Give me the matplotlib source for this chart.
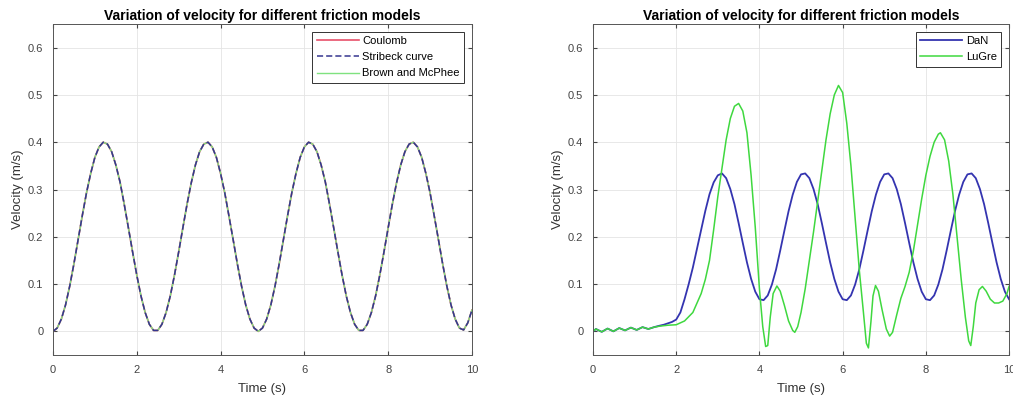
import numpy as np
import matplotlib
matplotlib.use("Agg")
import matplotlib.pyplot as plt

plt.rcParams['font.family'] = ['Liberation Sans', 'DejaVu Sans']

# left panel: the three models give the same response
time_left = np.round(np.arange(0, 10.01, 0.1), 1)
vel_left = [
    0.000, 0.007, 0.026, 0.056, 0.096, 0.143, 0.194, 0.245, 0.293, 0.334,
    0.368, 0.390, 0.400, 0.396, 0.380, 0.352, 0.316, 0.269, 0.219, 0.168,
    0.119, 0.075, 0.040, 0.015, 0.002,
    0.002, 0.015, 0.040, 0.075, 0.119, 0.168, 0.219, 0.269, 0.314, 0.352,
    0.380, 0.396, 0.400, 0.390, 0.368, 0.334, 0.293, 0.244, 0.194, 0.143,
    0.096, 0.056, 0.026, 0.007,
    0.000, 0.007, 0.026, 0.056, 0.096, 0.143, 0.194, 0.245, 0.293, 0.334,
    0.368, 0.390, 0.400, 0.396, 0.380, 0.352, 0.316, 0.269, 0.219, 0.168,
    0.119, 0.075, 0.040, 0.015, 0.002,
    0.002, 0.015, 0.040, 0.075, 0.119, 0.168, 0.219, 0.269, 0.314, 0.352,
    0.380, 0.396, 0.400, 0.390, 0.368, 0.334, 0.293, 0.244, 0.194, 0.143,
    0.096, 0.056, 0.026, 0.007,
    0.003, 0.018, 0.045,
]
coulomb = vel_left
stribeck = vel_left
brown = vel_left

# right panel
dan_t = [0, .07, .21, .35, .49, .63, .77, .91, 1.05, 1.19, 1.33, 1.47,
         1.6, 1.7, 1.8, 1.9, 2.0, 2.1, 2.2, 2.3, 2.4, 2.5, 2.6, 2.7, 2.8, 2.9, 3.0,
         3.1, 3.2, 3.3, 3.4, 3.5, 3.6, 3.7, 3.8, 3.9, 4.0,
         4.1, 4.2, 4.3, 4.4, 4.5, 4.6, 4.7, 4.8, 4.9, 5.0,
         5.1, 5.2, 5.3, 5.4, 5.5, 5.6, 5.7, 5.8, 5.9, 6.0,
         6.1, 6.2, 6.3, 6.4, 6.5, 6.6, 6.7, 6.8, 6.9, 7.0,
         7.1, 7.2, 7.3, 7.4, 7.5, 7.6, 7.7, 7.8, 7.9, 8.0,
         8.1, 8.2, 8.3, 8.4, 8.5, 8.6, 8.7, 8.8, 8.9, 9.0,
         9.1, 9.2, 9.3, 9.4, 9.5, 9.6, 9.7, 9.8, 9.9, 10.0]
dan_v = [0.000, 0.005, -0.001, 0.006, 0.000, 0.007, 0.002, 0.008, 0.003, 0.009, 0.005, 0.009,
         0.012, 0.014, 0.017, 0.020, 0.025, 0.040, 0.068, 0.100, 0.135, 0.175, 0.215, 0.255, 0.290, 0.315, 0.330,
         0.334, 0.324, 0.301, 0.269, 0.229, 0.187, 0.146, 0.111, 0.084, 0.068,
         0.066, 0.076, 0.099, 0.131, 0.171, 0.213, 0.254, 0.289, 0.316, 0.332,
         0.334, 0.324, 0.301, 0.269, 0.229, 0.187, 0.146, 0.111, 0.084, 0.068,
         0.066, 0.076, 0.099, 0.131, 0.171, 0.213, 0.254, 0.289, 0.316, 0.332,
         0.334, 0.324, 0.301, 0.269, 0.229, 0.187, 0.146, 0.111, 0.084, 0.068,
         0.066, 0.076, 0.099, 0.131, 0.171, 0.213, 0.254, 0.289, 0.316, 0.332,
         0.334, 0.324, 0.301, 0.269, 0.229, 0.187, 0.146, 0.111, 0.084, 0.068]

lugre_t = [0, .07, .21, .35, .49, .63, .77, .91, 1.05, 1.19, 1.33, 1.47,
           1.6, 1.8, 2.0, 2.2, 2.4, 2.6, 2.7, 2.8, 2.9, 3.0, 3.1, 3.2, 3.3, 3.4,
           3.5, 3.6, 3.7, 3.8, 3.9, 4.0, 4.08, 4.15, 4.2, 4.26, 4.33, 4.42, 4.5,
           4.6, 4.7, 4.8, 4.85, 4.92, 5.0, 5.1, 5.2, 5.3, 5.4, 5.5, 5.6, 5.7,
           5.8, 5.9, 6.0, 6.1, 6.2, 6.3, 6.4, 6.5, 6.57, 6.62, 6.68, 6.73, 6.79,
           6.86, 6.95, 7.05, 7.13, 7.2, 7.3, 7.4, 7.5, 7.6, 7.7, 7.8, 7.9, 8.0,
           8.1, 8.2, 8.3, 8.35, 8.45, 8.55, 8.65, 8.75, 8.85, 8.95, 9.03, 9.08,
           9.14, 9.2, 9.28, 9.36, 9.45, 9.55, 9.65, 9.75, 9.85, 9.95, 10.0]
lugre_v = [0.000, 0.005, -0.001, 0.006, 0.000, 0.007, 0.002, 0.008, 0.003, 0.009, 0.005, 0.009,
           0.011, 0.013, 0.014, 0.022, 0.040, 0.080, 0.110, 0.150, 0.215, 0.285, 0.345, 0.405, 0.450, 0.476,
           0.482, 0.466, 0.420, 0.330, 0.220, 0.090, 0.010, -0.032, -0.030, 0.030, 0.080, 0.096, 0.085,
           0.055, 0.022, 0.002, -0.002, 0.010, 0.040, 0.090, 0.150, 0.210, 0.275, 0.340, 0.405, 0.460,
           0.500, 0.520, 0.505, 0.440, 0.350, 0.240, 0.130, 0.040, -0.025, -0.035, 0.020, 0.075, 0.097,
           0.085, 0.045, 0.005, -0.010, -0.002, 0.035, 0.070, 0.095, 0.125, 0.170, 0.225, 0.280, 0.330,
           0.370, 0.400, 0.417, 0.420, 0.405, 0.360, 0.290, 0.200, 0.110, 0.030, -0.020, -0.030,
           0.010, 0.060, 0.088, 0.095, 0.085, 0.068, 0.060, 0.060, 0.064, 0.080, 0.095]

title = "Variation of velocity for different friction models"
xticks = [0, 2, 4, 6, 8, 10]
yticks = [0, 0.1, 0.2, 0.3, 0.4, 0.5, 0.6]

fig = plt.figure(figsize=(10.13, 3.98), dpi=100)
ax1 = fig.add_axes([0.0523, 0.108, 0.4136, 0.8317])
ax2 = fig.add_axes([0.5854, 0.108, 0.4107, 0.8317])


def style(ax):
    ax.set_xlim(0, 10)
    ax.set_ylim(-0.05, 0.65)
    ax.set_xticks(xticks)
    ax.set_yticks(yticks)
    ax.set_yticklabels([f"{v:g}" for v in yticks])
    ax.grid(True, color="#e4e4e4", lw=0.6)
    ax.set_axisbelow(True)
    ax.tick_params(direction="in", length=3, labelsize=8, colors="#444444",
                   top=True, right=True, pad=7)
    for s in ax.spines.values():
        s.set_color("#555555")
        s.set_linewidth(0.7)
    ax.set_title(title, fontsize=10, fontweight="bold", pad=3)
    ax.set_xlabel("Time (s)", fontsize=9.5, color="#333333", labelpad=6)
    ax.set_ylabel("Velocity (m/s)", fontsize=9.5, color="#333333", labelpad=3)


ax1.plot(time_left, coulomb, color="#e8506a", lw=1.2, label="Coulomb")
ax1.plot(time_left, brown, color="#7fe27f", lw=1.0, label="Brown and McPhee")
ax1.plot(time_left, stribeck, color="#35358f", lw=1.1, ls=(0, (4, 2)), label="Stribeck curve")
style(ax1)
h, l = ax1.get_legend_handles_labels()
order = [0, 2, 1]
leg1 = ax1.legend([h[i] for i in order], [l[i] for i in order], loc="upper right",
                  fontsize=8, handlelength=3.8, handletextpad=0.3, fancybox=False,
                  edgecolor="#333333", framealpha=1, borderaxespad=0.7,
                  labelspacing=0.55, borderpad=0.4)
leg1.get_frame().set_linewidth(0.7)

ax2.plot(dan_t, dan_v, color="#3434b0", lw=1.3, label="DaN")
ax2.plot(lugre_t, lugre_v, color="#3fd83f", lw=1.1, label="LuGre")
style(ax2)
leg2 = ax2.legend(loc="upper right", fontsize=8, handlelength=3.8, handletextpad=0.3,
                  fancybox=False, edgecolor="#333333", framealpha=1, borderaxespad=0.7,
                  labelspacing=0.55, borderpad=0.4)
leg2.get_frame().set_linewidth(0.7)

fig.savefig("out.png", dpi=100)
